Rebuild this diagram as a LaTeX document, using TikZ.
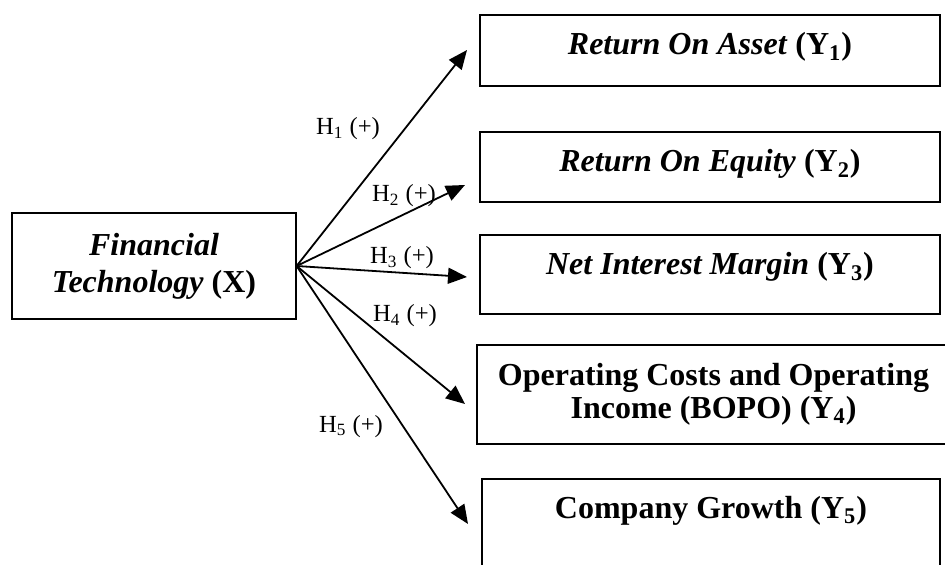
\documentclass[tikz,border=0pt]{standalone}
\usepackage{fontspec}
\setmainfont{Liberation Serif}
\usetikzlibrary{arrows.meta,positioning}
\tikzset{
    every picture/.style={line join=miter},
    varbox/.style={draw=black,line width=0.6pt,inner xsep=2pt,inner ysep=0pt,
      font=\fontsize{16}{16.5}\selectfont\bfseries,align=center},
    hypolabel/.style={anchor=base,inner sep=0pt,font=\fontsize{12.3}{14}\selectfont},
    hypoarrow/.style={-{Triangle[length=9.5pt,width=8pt]},draw=black,
      line width=0.9pt}
}

\begin{document}
\begin{tikzpicture}[x=0.5pt,y=-0.5pt]
    \useasboundingbox (0,0) rectangle (945,565);

    \node[varbox,minimum width=142pt,minimum height=53pt,
      font=\fontsize{16}{18.5}\selectfont\bfseries] (fintech) at (154,266)
      {\textit{Financial}\\\textit{Technology} (X)};

    \node[varbox,anchor=base,minimum width=230pt,text height=20pt,text depth=15.5pt]
      (roa) at (710,55) {\textit{Return On Asset} (Y\textsubscript{1})};
    \node[varbox,anchor=base,minimum width=230pt,text height=20pt,text depth=15pt]
      (roe) at (710,172) {\textit{Return On Equity} (Y\textsubscript{2})};
    \node[varbox,anchor=base,minimum width=230pt,text height=20pt,text depth=19.5pt]
      (nim) at (710,275) {\textit{Net Interest Margin} (Y\textsubscript{3})};
    \node[varbox,minimum width=236.5pt,minimum height=49.5pt]
      (bopo) at (713.5,394.5) {Operating Costs and Operating\\Income (BOPO) (Y\textsubscript{4})};
    \node[varbox,anchor=base,minimum width=229pt,text height=19.5pt,text depth=45pt]
      (growth) at (711,518) {Company Growth (Y\textsubscript{5})};

    \coordinate (tipA) at (467,50);
    \coordinate (tipB) at (465,185);
    \coordinate (tipC) at (467,277);
    \coordinate (tipD) at (465,404);
    \coordinate (tipE) at (468,524);

    \draw[hypoarrow] (fintech.east)--(tipA);
    \draw[hypoarrow] (fintech.east)--(tipB);
    \draw[hypoarrow] (fintech.east)--(tipC);
    \draw[hypoarrow] (fintech.east)--(tipD);
    \draw[hypoarrow] (fintech.east)--(tipE);

    \node[hypolabel] (hA) at (348,135) {H\textsubscript{1} (+)};
    \node[hypolabel] (hB) at (404,202) {H\textsubscript{2} (+)};
    \node[hypolabel] (hC) at (402,264) {H\textsubscript{3} (+)};
    \node[hypolabel] (hD) at (405,322) {H\textsubscript{4} (+)};
    \node[hypolabel] (hE) at (351,432) {H\textsubscript{5} (+)};
\end{tikzpicture}
\end{document}
